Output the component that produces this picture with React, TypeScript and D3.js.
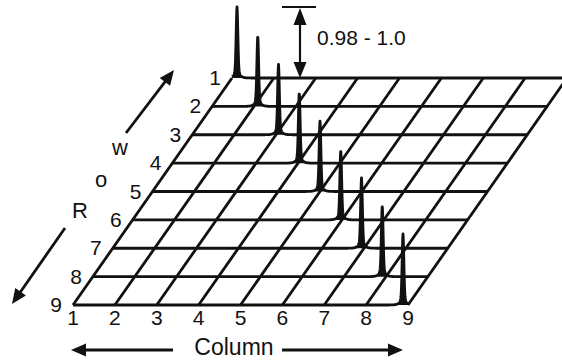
import React from "react";
import * as d3 from "d3";

const W = 562;
const H = 362;

const rowLabels = ["1", "2", "3", "4", "5", "6", "7", "8", "9"];
const columnLabels = ["1", "2", "3", "4", "5", "6", "7", "8", "9"];

// similarity of row i to column j (only the diagonal is non-zero)
const values = [
  [1.0, 0, 0, 0, 0, 0, 0, 0, 0],
  [0, 0.99, 0, 0, 0, 0, 0, 0, 0],
  [0, 0, 0.99, 0, 0, 0, 0, 0, 0],
  [0, 0, 0, 0.99, 0, 0, 0, 0, 0],
  [0, 0, 0, 0, 0.99, 0, 0, 0, 0],
  [0, 0, 0, 0, 0, 0.98, 0, 0, 0],
  [0, 0, 0, 0, 0, 0, 0.99, 0, 0],
  [0, 0, 0, 0, 0, 0, 0, 1.0, 0],
  [0, 0, 0, 0, 0, 0, 0, 0, 1.0],
];

const rangeLabel = "0.98 - 1.0";
const FONT = "'Liberation Sans', Arial, Helvetica, sans-serif";
const INK = "#111";

const arrowHead = (x1: number, y1: number, x2: number, y2: number, len = 14, half = 6) => {
  const a = Math.atan2(y2 - y1, x2 - x1);
  const bx = x2 - len * Math.cos(a);
  const by = y2 - len * Math.sin(a);
  const px = -Math.sin(a) * half;
  const py = Math.cos(a) * half;
  return `M${x2},${y2}L${bx + px},${by + py}L${bx - px},${by - py}Z`;
};

const Arrow = ({ x1, y1, x2, y2 }: { x1: number; y1: number; x2: number; y2: number }) => {
  const a = Math.atan2(y2 - y1, x2 - x1);
  return (
    <g>
      <line x1={x1} y1={y1} x2={x2 - 8 * Math.cos(a)} y2={y2 - 8 * Math.sin(a)} stroke={INK} strokeWidth={2.8} />
      <path d={arrowHead(x1, y1, x2, y2, 15, 6.5)} fill={INK} />
    </g>
  );
};

// narrow spike with a small flare at its foot
const spike = (dx: number) =>
  0.82 * Math.exp(-Math.pow(dx / 1.2, 2)) + 0.18 * Math.exp(-Math.abs(dx) / 2.2);

export default function App() {
  // front row column positions, row baselines, and the skew of the receding rows
  const xCol = d3.scaleLinear().domain([1, 9]).range([73, 408]);
  // spectra sample each column slightly inside the grid edges
  const xPeak = d3.scaleLinear().domain([1, 9]).range([78, 403]);
  const yRow = d3.scaleLinear().domain([1, 9]).range([78, 305]);
  const skew = d3.scaleLinear().domain([1, 9]).range([159, 0]);
  const hScale = d3.scaleLinear().domain([0, 1]).range([0, 71]);

  const line = d3.line<[number, number]>().x((d) => d[0]).y((d) => d[1]);

  const rows = values.map((rowVals, i) => {
    const r = i + 1;
    const x0 = xCol(1) + skew(r);
    const x1 = xCol(9) + skew(r);
    const y = yRow(r);
    const pts: [number, number][] = [];
    for (let x = x0; x <= x1 + 0.01; x += 0.25) {
      let h = 0;
      rowVals.forEach((v, j) => {
        if (!v) return;
        h += hScale(v) * spike(x - (xPeak(j + 1) + skew(r)));
      });
      pts.push([x, y - h]);
    }
    const area = (line([...pts, [x1, y], [x0, y]]) as string) + "Z";
    return { trace: line(pts) as string, area };
  });

  return (
    <svg width={W} height={H} style={{ position: "absolute", left: 0, top: 0, background: "#fff" }}>
      <rect width={W} height={H} fill="#fff" />
      {/* column lines */}
      {columnLabels.map((c, j) => (
        <line
          key={"c" + c}
          x1={xCol(j + 1) + skew(1)}
          y1={yRow(1)}
          x2={xCol(j + 1) + skew(9)}
          y2={yRow(9)}
          stroke={INK}
          strokeWidth={2.8}
        />
      ))}
      {/* row traces */}
      {rows.map((d, i) => (
        <g key={"r" + i}>
          <path d={d.area} fill={INK} stroke="none" />
          <path d={d.trace} fill="none" stroke={INK} strokeWidth={2.8} strokeLinejoin="round" />
        </g>
      ))}
      {/* row labels */}
      {rowLabels.map((l, i) => (
        <text
          key={"rl" + l}
          x={xCol(1) + skew(i + 1) - 11}
          y={yRow(i + 1) + 7}
          textAnchor="end"
          fontFamily={FONT}
          fontSize={21}
          fill={INK}
        >
          {l}
        </text>
      ))}
      {/* column labels */}
      {columnLabels.map((l, j) => (
        <text
          key={"cl" + l}
          x={xCol(j + 1)}
          y={325}
          textAnchor="middle"
          fontFamily={FONT}
          fontSize={21}
          fill={INK}
        >
          {l}
        </text>
      ))}
      {/* Row axis title, letters stacked along the diagonal */}
      <g fontFamily={FONT} fontSize={22} fill={INK} textAnchor="middle">
        <text x={80} y={218}>R</text>
        <text x={101} y={187}>o</text>
        <text x={120} y={155}>w</text>
      </g>
      <Arrow x1={126} y1={133} x2={174} y2={70} />
      <Arrow x1={65} y1={228} x2={12} y2={304} />
      {/* Column axis title */}
      <text x={234} y={355} textAnchor="middle" fontFamily={FONT} fontSize={23} fill={INK}>
        Column
      </text>
      <Arrow x1={173} y1={350} x2={71} y2={350} />
      <Arrow x1={282} y1={350} x2={403} y2={350} />
      {/* height annotation */}
      <line x1={282} y1={7} x2={316} y2={7} stroke={INK} strokeWidth={2.2} />
      <line x1={300} y1={14} x2={300} y2={70} stroke={INK} strokeWidth={2.2} />
      <path d={arrowHead(300, 40, 300, 8, 17, 6.5)} fill={INK} />
      <path d={arrowHead(300, 40, 300, yRow(1), 16, 6.5)} fill={INK} />
      <text x={317} y={45} fontFamily={FONT} fontSize={21} fill={INK}>
        {rangeLabel}
      </text>
    </svg>
  );
}
